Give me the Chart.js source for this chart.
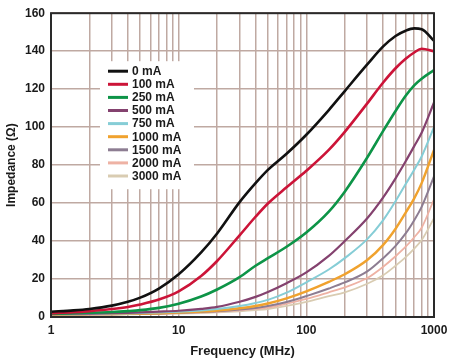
<!DOCTYPE html>
<html>
<head>
<meta charset="utf-8">
<script src="https://cdn.jsdelivr.net/npm/chart.js@4"></script>
<style>
	html, body { margin: 0; padding: 0; background: #fff; }
	#wrap { width: 458px; height: 363px; }
</style>
</head>
<body>
<div id="wrap"><canvas id="impedance_chart" width="458" height="363"></canvas></div>
<script>
const frequencies = [1, 1.5, 2, 3, 4, 5, 7, 10, 15, 20, 30, 40, 50, 70, 100, 150, 200, 300, 400, 500, 600, 700, 800, 1000]
const current_labels = ['0 mA', '100 mA', '250 mA', '500 mA', '750 mA', '1000 mA', '1500 mA', '2000 mA', '3000 mA']
const z_0ma = [2.8, 3.5, 4.25, 6, 8, 10.2, 15, 22.5, 34, 44, 60.5, 70.5, 77.5, 86, 96, 109, 119, 133, 142.5, 148, 150.8, 152, 151.6, 145.5]
const z_100ma = [2, 2.5, 3.1, 4.2, 5.3, 6.6, 9.2, 13.5, 21.6, 29.5, 43, 52.8, 59.8, 68.3, 77, 88, 97.5, 112.5, 123.5, 131, 136, 139.3, 141.3, 140]
const z_250ma = [1.7, 2, 2.2, 2.6, 3.1, 3.6, 4.8, 7, 10.8, 14.5, 21, 27, 31, 37, 44.5, 55.5, 66, 84, 98, 108.5, 116.5, 122, 125.5, 130]
const z_500ma = [1.5, 1.7, 1.8, 2, 2.2, 2.4, 2.8, 3.3, 4.3, 5.3, 8, 10.6, 13.2, 17.8, 23.5, 32.2, 40, 52, 63, 73, 82, 90, 97, 113]
const z_750ma = [1.4, 1.5, 1.6, 1.8, 1.9, 2.1, 2.4, 2.8, 3.4, 4.2, 5.8, 7.4, 9, 12.8, 18.3, 25, 31, 41, 51, 61, 70, 77.5, 84.5, 100]
const z_1000ma = [1.3, 1.4, 1.5, 1.6, 1.7, 1.8, 2, 2.4, 2.9, 3.4, 4.6, 5.8, 7.1, 9.8, 13.5, 18.5, 22.5, 30, 38, 46.5, 55, 62.5, 70.5, 88]
const z_1500ma = [1.2, 1.3, 1.4, 1.5, 1.6, 1.7, 1.9, 2.2, 2.6, 3, 3.9, 4.8, 5.8, 7.9, 11, 15, 18.2, 24, 31, 37.5, 44, 51, 58, 74]
const z_2000ma = [1.1, 1.2, 1.3, 1.4, 1.5, 1.6, 1.7, 2, 2.4, 2.7, 3.5, 4.3, 5, 7, 9.5, 13, 15.6, 20.5, 26.5, 32, 37, 42, 47, 62]
const z_3000ma = [1, 1.1, 1.2, 1.3, 1.4, 1.5, 1.6, 1.8, 2.1, 2.4, 3, 3.6, 4.2, 5.8, 8, 11, 13, 17.5, 22, 27, 31.5, 36, 40.5, 52]
const x_tick_values = [1, 2, 3, 4, 5, 6, 7, 8, 9, 10, 20, 30, 40, 50, 60, 70, 80, 90, 100, 200, 300, 400, 500, 600, 700, 800, 900, 1000]
const x_tick_labels = ['1', '10', '100', '1000']

const series = [z_0ma, z_100ma, z_250ma, z_500ma, z_750ma, z_1000ma, z_1500ma, z_2000ma, z_3000ma]
const line_colors = ['#111111', '#cc1438', '#0d9447', '#84426f', '#86cdd6', '#f0a22e', '#8d7d92', '#eeb2a4', '#d9ccb2']
const line_widths = [2.6, 2.6, 2.6, 2.2, 2, 2.4, 2, 1.8, 1.8]
const grid_color = '#bfa9a2'

// legend drawn inside the plot, on a white box over the grid
const inside_legend = {
	id: 'inside_legend',
	beforeDatasetsDraw(chart) {
		const ctx = chart.ctx
		const area = chart.chartArea
		const x0 = area.left + 49
		const y0 = area.top + 48
		ctx.save()
		ctx.fillStyle = '#ffffff'
		ctx.fillRect(x0, y0, 94, 128)
		ctx.font = 'bold 12px "Liberation Sans", Arial, sans-serif'
		ctx.textBaseline = 'middle'
		chart.data.datasets.forEach((ds, i) => {
			const y = y0 + 10 + i * 13.1
			ctx.strokeStyle = ds.borderColor
			ctx.lineWidth = 3
			ctx.beginPath()
			ctx.moveTo(x0 + 8, y)
			ctx.lineTo(x0 + 28, y)
			ctx.stroke()
			ctx.fillStyle = '#1a1a1a'
			ctx.fillText(ds.label, x0 + 32, y + 0.5)
		})
		ctx.restore()
	},
	afterDatasetsDraw(chart) {
		const ctx = chart.ctx
		const area = chart.chartArea
		ctx.save()
		ctx.strokeStyle = '#2a2a2a'
		ctx.lineWidth = 2
		ctx.strokeRect(area.left, area.top, area.right - area.left, area.bottom - area.top)
		ctx.restore()
	},
}

// first dataset is drawn on top, so the black curve stays above the rest
// eslint-disable-next-line
const impedance_chart = new Chart(document.getElementById('impedance_chart'), {
	type: 'line',
	data: {
		datasets: series.map((values, i) => ({
			label: current_labels[i],
			data: values.map((v, j) => ({ x: frequencies[j], y: v })),
			borderColor: line_colors[i],
			borderWidth: line_widths[i],
			pointRadius: 0,
			fill: false,
			cubicInterpolationMode: 'monotone',
		})),
	},
	options: {
		responsive: false,
		animation: false,
		layout: { padding: { top: 9, right: 24, left: 0, bottom: 0 } },
		plugins: {
			legend: { display: false },
			tooltip: { enabled: false },
		},
		scales: {
			x: {
				type: 'logarithmic',
				min: 1,
				max: 1000,
				afterBuildTicks: (scale) => {
					scale.ticks = x_tick_values.map((v) => ({ value: v }))
				},
				afterFit: (scale) => {
					scale.height = 46
				},
				ticks: {
					autoSkip: false,
					maxRotation: 0,
					padding: 6,
					color: '#1a1a1a',
					font: { family: '"Liberation Sans", Arial, sans-serif', size: 12, weight: 'bold' },
					callback: (value) => (x_tick_labels.includes(String(value)) ? String(value) : ''),
				},
				grid: { color: grid_color, lineWidth: 1.5, drawTicks: false },
				border: { display: false },
				title: {
					display: true,
					text: 'Frequency (MHz)',
					color: '#1a1a1a',
					font: { family: '"Liberation Sans", Arial, sans-serif', size: 13, weight: 'bold' },
				},
			},
			y: {
				min: 0,
				max: 160,
				afterFit: (scale) => {
					scale.width = 51
				},
				ticks: {
					stepSize: 20,
					padding: 6,
					color: '#1a1a1a',
					font: { family: '"Liberation Sans", Arial, sans-serif', size: 12, weight: 'bold' },
				},
				grid: { color: grid_color, lineWidth: 1.5, drawTicks: false },
				border: { display: false },
				title: {
					display: true,
					text: 'Impedance (Ω)',
					color: '#1a1a1a',
					font: { family: '"Liberation Sans", Arial, sans-serif', size: 12, weight: 'bold' },
				},
			},
		},
	},
	plugins: [inside_legend],
})
</script>
</body>
</html>
